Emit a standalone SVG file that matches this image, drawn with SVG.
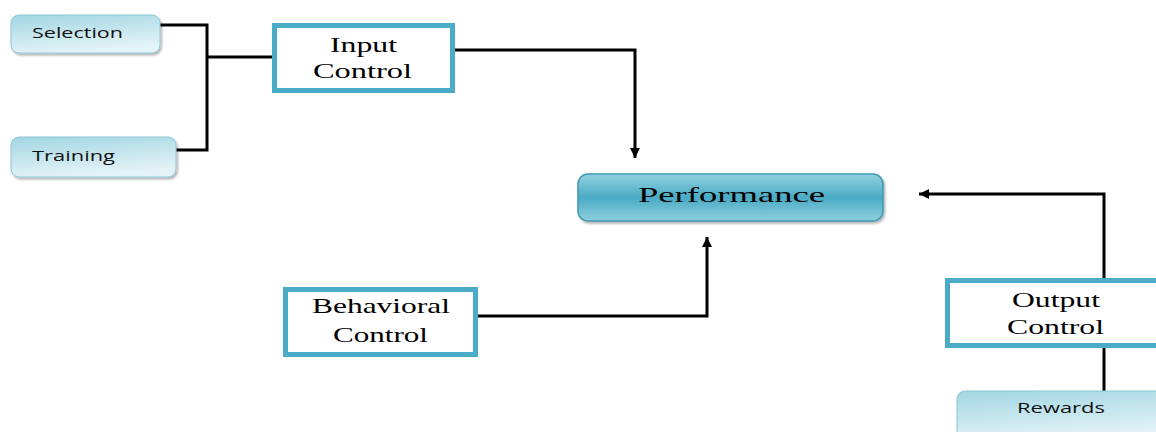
<svg xmlns="http://www.w3.org/2000/svg" width="1156" height="432" viewBox="0 0 1156 432">
<defs>
<linearGradient id="gSmall" x1="0" y1="0" x2="0.3" y2="1">
<stop offset="0" stop-color="#a2d6e3"/>
<stop offset="1" stop-color="#e4f3f7"/>
</linearGradient>
<linearGradient id="gPerf" x1="0" y1="0" x2="0" y2="1">
<stop offset="0" stop-color="#93d1e0"/>
<stop offset="0.5" stop-color="#4aabc5"/>
<stop offset="1" stop-color="#8fcfde"/>
</linearGradient>
<filter id="sh" x="-10%" y="-20%" width="130%" height="160%">
<feDropShadow dx="1.5" dy="2" stdDeviation="1" flood-color="#000" flood-opacity="0.3"/>
</filter>
<marker id="ah" viewBox="0 0 10 10" refX="10" refY="5" markerWidth="10" markerHeight="12" markerUnits="userSpaceOnUse" orient="auto">
<path d="M0,0 L10,5 L0,10 Z" fill="#000"/>
</marker>
<style>
.small{fill:url(#gSmall);stroke:#8cc7d6;stroke-width:1;filter:url(#sh)}
.ctrl{fill:#fff;stroke:#4bacc6;stroke-width:5}
.sans{font-family:"Open Sans","Liberation Sans",sans-serif;font-size:15px;fill:#111}
.serif{font-family:"Liberation Serif","Times New Roman",serif;font-size:21px;fill:#000}
.conn{fill:none;stroke:#000;stroke-width:3}
</style>
</defs>
<g id="connectors">
<path class="conn" d="M160,25 H207 V150 H176"/>
<path class="conn" d="M207,57 H273"/>
<path class="conn" d="M455,50 H635 V158" marker-end="url(#ah)"/>
<path class="conn" d="M478,316 H707 V237" marker-end="url(#ah)"/>
<path class="conn" d="M1104,278 V194 H919" marker-end="url(#ah)"/>
<path class="conn" d="M1104,348 V392"/>
</g>
<g id="selection">
<rect class="small" x="11" y="15" width="149" height="38" rx="8"/>
<text class="sans" x="32" y="38" textLength="91" lengthAdjust="spacingAndGlyphs">Selection</text>
</g>
<g id="training">
<rect class="small" x="11" y="137" width="165" height="40" rx="8"/>
<text class="sans" x="32" y="161" textLength="83" lengthAdjust="spacingAndGlyphs">Training</text>
</g>
<g id="input-control">
<rect class="ctrl" x="274.5" y="25.5" width="178" height="65"/>
<text class="serif" x="330" y="52" textLength="67" lengthAdjust="spacingAndGlyphs">Input</text>
<text class="serif" x="313" y="78" textLength="99" lengthAdjust="spacingAndGlyphs">Control</text>
</g>
<g id="performance">
<rect x="578" y="174" width="305" height="47" rx="10" fill="url(#gPerf)" stroke="#3f9ab3" stroke-width="1.5" filter="url(#sh)"/>
<text class="serif" x="638" y="202" font-size="23" textLength="187" lengthAdjust="spacingAndGlyphs">Performance</text>
</g>
<g id="behavioral-control">
<rect class="ctrl" x="285.5" y="289.5" width="190" height="65"/>
<text class="serif" x="312" y="313" textLength="138" lengthAdjust="spacingAndGlyphs">Behavioral</text>
<text class="serif" x="333" y="342" textLength="95" lengthAdjust="spacingAndGlyphs">Control</text>
</g>
<g id="output-control">
<rect class="ctrl" x="947.5" y="280.5" width="220" height="65"/>
<text class="serif" x="1012" y="307" textLength="88" lengthAdjust="spacingAndGlyphs">Output</text>
<text class="serif" x="1007" y="334" textLength="97" lengthAdjust="spacingAndGlyphs">Control</text>
</g>
<g id="rewards">
<rect class="small" x="957" y="391" width="220" height="50" rx="8"/>
<text class="sans" x="1017" y="413" textLength="88" lengthAdjust="spacingAndGlyphs">Rewards</text>
</g>
</svg>
